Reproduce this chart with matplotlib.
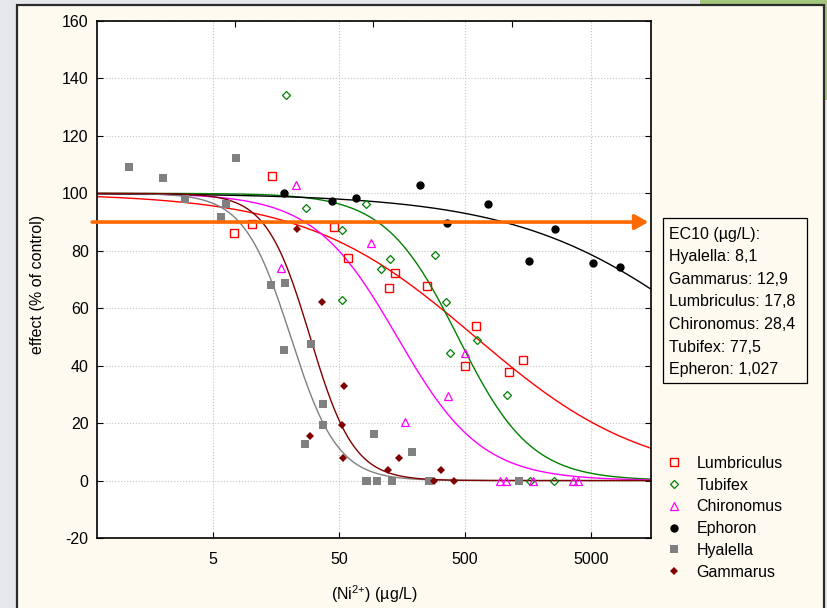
import numpy as np
import matplotlib
matplotlib.use("Agg")
import matplotlib.pyplot as plt
from matplotlib.patches import Rectangle
from matplotlib.ticker import NullLocator

plt.rcParams['font.family'] = ['Liberation Sans', 'DejaVu Sans']
plt.rcParams['axes.unicode_minus'] = False
plt.rcParams['mathtext.fontset'] = 'custom'
plt.rcParams['mathtext.rm'] = 'Liberation Sans'

# --- data ---
species = ["Lumbriculus", "Tubifex", "Chironomus", "Ephoron", "Hyalella", "Gammarus"]

lumb_x = [7.31, 10.2, 14.7, 45.8, 59.5, 124, 139, 251, 501, 616, 1112, 1438]
lumb_y = [86.3, 89.3, 105.9, 88.3, 77.6, 66.9, 72.1, 67.7, 40.0, 53.9, 37.8, 41.9]

tubi_x = [19.1, 27.3, 52.8, 52.8, 82.3, 108, 127, 289, 356, 383, 624, 1081, 1656, 2537]
tubi_y = [134.2, 94.8, 87.2, 63.0, 96.2, 73.6, 77.0, 78.5, 62.0, 44.5, 49.0, 29.7, 0, 0]

chir_x = [17.4, 23.0, 90.6, 168, 364, 498, 956, 1061, 1727, 3591, 3936]
chir_y = [73.9, 102.9, 82.6, 20.3, 29.4, 44.3, 0, 0, 0, 0, 0]

epho_x = [18.2, 43.9, 68.1, 218, 360, 764, 1626, 2616, 5180, 8440]
epho_y = [100.2, 97.4, 98.3, 102.8, 89.8, 96.2, 76.3, 87.6, 75.8, 74.4]

hyal_x = [1.07, 1.99, 2.98, 5.79, 6.31, 7.62, 14.5, 18.2, 18.8, 26.8, 29.9, 37.2, 37.2,
          82.3, 83.3, 95.2, 101, 133, 190, 257, 1346]
hyal_y = [109.2, 105.4, 97.9, 91.7, 96.2, 112.2, 68.2, 45.3, 68.7, 12.6, 47.6, 26.5, 19.3,
          0, 0, 16.2, 0, 0, 9.9, 0, 0]

gamm_x = [23.1, 29.7, 37.0, 52.8, 53.7, 55.0, 123, 149, 282, 321, 412]
gamm_y = [87.7, 15.5, 62.0, 19.4, 7.8, 32.9, 3.8, 7.8, 0, 3.8, 0]

# log-logistic fits: effect = 100 / (1 + (x / EC50)^slope)
fit_ec50 = [604, 440, 145, 51700, 20.7, 29.5]
fit_slope = [0.643, 1.5, 1.3, 0.559, 2.335, 2.5]

ec10_names = ["Hyalella", "Gammarus", "Lumbriculus", "Chironomus", "Tubifex", "Epheron"]
ec10_vals = ["8,1", "12,9", "17,8", "28,4", "77,5", "1,027"]

x_ticks = [5, 50, 500, 5000]
top_ticks = [7.48, 93.5, 1191]
y_ticks = list(range(-20, 161, 20))
arrow_level = 90

# --- styles ---
cream = '#FEFAEF'
styles = [
    dict(marker='s', mfc='none', mec='#FF0000', ms=5.3, mew=1.0, color='#FF0000'),
    dict(marker='D', mfc='none', mec='#008000', ms=4.1, mew=0.9, color='#008000'),
    dict(marker='^', mfc='none', mec='#FF00FF', ms=6.0, mew=0.9, color='#FF00FF'),
    dict(marker='o', mfc='#000000', mec='#000000', ms=6.0, mew=0, color='#000000'),
    dict(marker='s', mfc='#808080', mec='#808080', ms=5.8, mew=0, color='#808080'),
    dict(marker='D', mfc='#800000', mec='#800000', ms=4.3, mew=0, color='#800000'),
]
xs = [lumb_x, tubi_x, chir_x, epho_x, hyal_x, gamm_x]
ys = [lumb_y, tubi_y, chir_y, epho_y, hyal_y, gamm_y]

W, H = 827, 608
fig = plt.figure(figsize=(W / 100, H / 100), dpi=100, facecolor='#E6E7EA')

# frame / panel behind the chart
fig.patches.append(Rectangle((700 / W, 1 - 100 / H), 127 / W, 100 / H,
                             transform=fig.transFigure, facecolor='#A3C77A',
                             edgecolor='none', zorder=-3))
fig.patches.append(Rectangle((17 / W, -0.01), (824 - 17) / W, 1.01 - 5 / H,
                             transform=fig.transFigure, facecolor=cream,
                             edgecolor='#2B2B2B', lw=1.6, zorder=-2))

ax = fig.add_axes([97 / W, 1 - 538 / H, (651 - 97) / W, (538 - 21) / H])
ax.set_facecolor('white')
ax.set_xscale('log')
ax.set_xlim(0.6, 15000)
ax.set_ylim(-20, 160)

xx = np.logspace(np.log10(0.6), np.log10(15000), 400)
handles = []
for name, x, y, e50, b, st in zip(species, xs, ys, fit_ec50, fit_slope, styles):
    curve = 100 / (1 + (xx / e50) ** b)
    ax.plot(xx, curve, color=st['color'], lw=1.0, zorder=2)
    h, = ax.plot(x, y, ls='none', marker=st['marker'], mfc=st['mfc'], mec=st['mec'],
                 ms=st['ms'], mew=st['mew'], label=name, zorder=3)
    handles.append(h)

ax.set_xticks(x_ticks)
ax.set_xticklabels([str(t) for t in x_ticks])
ax.xaxis.set_minor_locator(NullLocator())
ax.set_yticks(y_ticks)
ax.tick_params(axis='x', direction='in', length=4, pad=10, labelsize=11.5, top=False)
ax.tick_params(axis='y', direction='in', length=4, pad=6, labelsize=11.5, right=True)
ax.grid(True, color='#C4C4C4', ls=':', lw=0.8)
ax.set_axisbelow(True)
for sp in ax.spines.values():
    sp.set_linewidth(1.2)

ax.set_xlabel(r'(Ni$^{2{+}}$) (µg/L)', fontsize=11.5)
ax.xaxis.set_label_coords(0.5, -0.088)
ax.set_ylabel('effect (% of control)', fontsize=11.5)
ax.yaxis.set_label_coords(-0.093, 0.49)

ax_top = ax.twiny()
ax_top.set_xscale('log')
ax_top.set_xlim(ax.get_xlim())
ax_top.set_xticks(top_ticks)
ax_top.set_xticklabels([])
ax_top.xaxis.set_minor_locator(NullLocator())
ax_top.tick_params(direction='in', length=4)
for sp in ax_top.spines.values():
    sp.set_visible(False)

# orange EC10 arrow
ax.annotate('', xy=(14300, arrow_level), xytext=(0.55, arrow_level),
            arrowprops=dict(arrowstyle='-|>,head_length=0.8,head_width=0.45',
                            color='#FF6A00', lw=2.6, mutation_scale=10,
                            shrinkA=0, shrinkB=0),
            annotation_clip=False, zorder=5)

# EC10 text box
fig.patches.append(Rectangle((663 / W, 1 - 383 / H), (807 - 663) / W, (383 - 218) / H,
                             transform=fig.transFigure, facecolor=cream,
                             edgecolor='black', lw=0.9, zorder=1))
box_lines = ["EC10 (µg/L):"] + [f"{n}: {v}" for n, v in zip(ec10_names, ec10_vals)]
for i, line in enumerate(box_lines):
    fig.text(669 / W, 1 - (239 + 22.5 * i) / H, line, fontsize=11.5,
             va='baseline', ha='left', zorder=2)

ax.legend(handles=handles, loc='upper left', bbox_to_anchor=(666 / W, 1 - 456 / H),
          bbox_transform=fig.transFigure, frameon=False, fontsize=11.5,
          handlelength=1.0, handletextpad=0.9, labelspacing=0.42,
          borderpad=0, borderaxespad=0)

fig.savefig('out.png', dpi=100, facecolor=fig.get_facecolor())
